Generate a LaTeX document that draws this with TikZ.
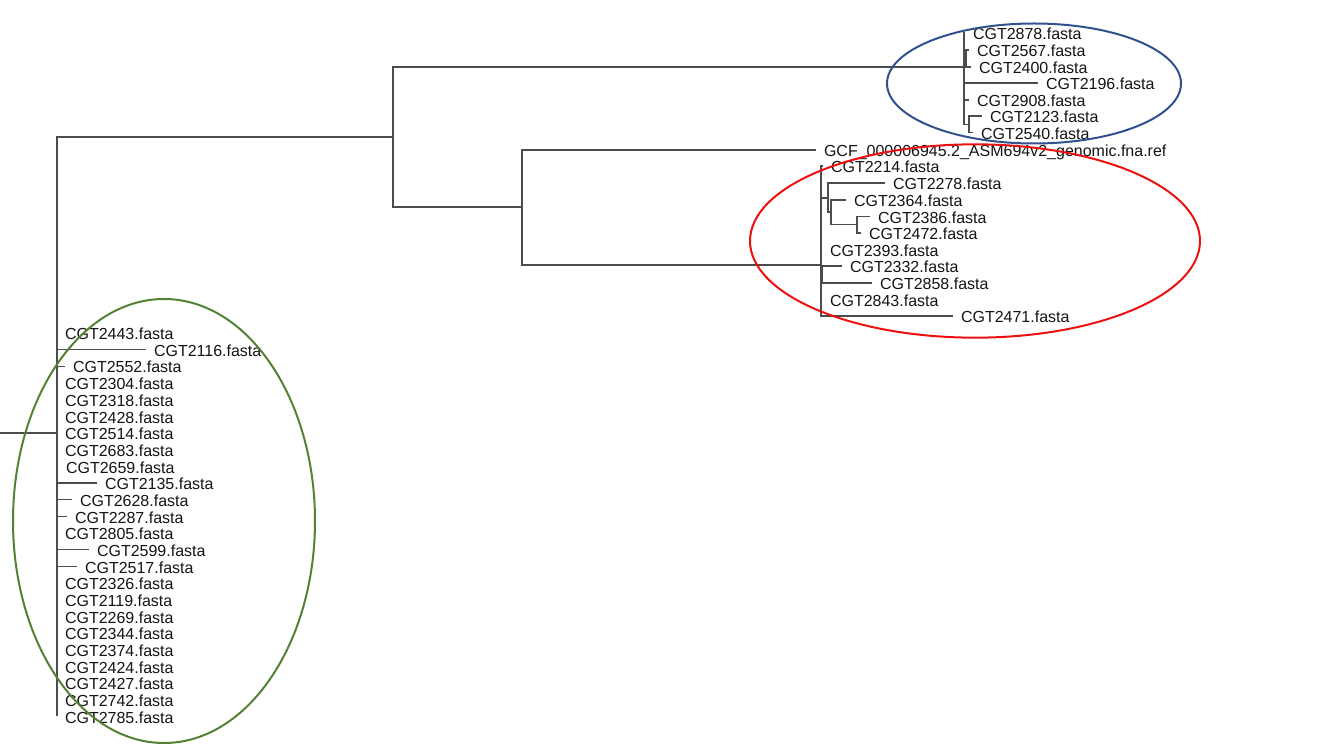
\documentclass[tikz,border=0pt]{standalone}
\usepackage{fontspec}
\setmainfont{Liberation Sans}
\definecolor{ringblue}{RGB}{47,82,143}
\definecolor{ringred}{RGB}{236,16,16}
\definecolor{ringgreen}{RGB}{84,130,53}
\begin{document}
\begin{tikzpicture}[x=0.75pt,y=-0.75pt,
  br/.style={draw=black!70,line width=0.8pt},
  leaf/.style={anchor=west,inner sep=0pt,outer xsep=6pt,text height=10pt,text depth=0pt,
    font=\fontsize{12}{14}\selectfont,text=black!92},
  ring/.style={line width=1.5pt}]
\useasboundingbox (0,0) rectangle (1343,755);
% internal nodes
\coordinate (R0) at (0,433);
\coordinate (N1) at (57,433);
\coordinate (N2) at (393,137);
\coordinate (N3) at (522,207);
\coordinate (B1) at (964,67);
\coordinate (B2) at (966,58.5);
\coordinate (B3) at (969,124.5);
\coordinate (R1) at (821,265);
\coordinate (RA) at (828,198);
\coordinate (RB) at (831,212);
\coordinate (RC) at (857,224.5);
\coordinate (RD) at (822,274.5);
% backbone
\draw[br] (R0) -- (N1);
\draw[br] (N1) |- (N2);
\draw[br] (N2) |- (B1);
\draw[br] (N2) |- (N3);
\draw[br] (N3) |- (R1);
% GCF reference
\node[leaf] (gcf) at (816,150) {GCF\_000006945.2\_ASM694v2\_genomic.fna.ref};
\draw[br] (N3) |- (gcf.west);
% blue clade
\node[leaf] (b2878) at (965,33) {CGT2878.fasta};
\node[leaf] (b2567) at (969,50) {CGT2567.fasta};
\node[leaf] (b2400) at (971,67) {CGT2400.fasta};
\node[leaf] (b2196) at (1038,83) {CGT2196.fasta};
\node[leaf] (b2908) at (969,100) {CGT2908.fasta};
\node[leaf] (b2123) at (982,116) {CGT2123.fasta};
\node[leaf] (b2540) at (973,132.5) {CGT2540.fasta};
\draw[br] (B1) |- (b2878.west);
\draw[br] (B1) |- (B2);
\draw[br] (B2) |- (b2567.west);
\draw[br] (B2) |- (b2400.west);
\draw[br] (B1) |- (b2196.west);
\draw[br] (B1) |- (b2908.west);
\draw[br] (B1) |- (B3);
\draw[br] (B3) |- (b2123.west);
\draw[br] (B3) |- (b2540.west);
% red clade
\node[leaf] (r2214) at (823,166) {CGT2214.fasta};
\node[leaf] (r2278) at (885,183) {CGT2278.fasta};
\node[leaf] (r2364) at (846,200) {CGT2364.fasta};
\node[leaf] (r2386) at (870,216.5) {CGT2386.fasta};
\node[leaf] (r2472) at (861,233) {CGT2472.fasta};
\node[leaf] (r2393) at (822,249.5) {CGT2393.fasta};
\node[leaf] (r2332) at (842,266) {CGT2332.fasta};
\node[leaf] (r2858) at (872,283) {CGT2858.fasta};
\node[leaf] (r2843) at (822,299.5) {CGT2843.fasta};
\node[leaf] (r2471) at (953,316) {CGT2471.fasta};
\draw[br] (R1) |- (r2214.west);
\draw[br] (R1) |- (RA);
\draw[br] (RA) |- (r2278.west);
\draw[br] (RA) |- (RB);
\draw[br] (RB) |- (r2364.west);
\draw[br] (RB) |- (RC);
\draw[br] (RC) |- (r2386.west);
\draw[br] (RC) |- (r2472.west);
\draw[br] (R1) |- (r2393.west);
\draw[br] (R1) |- (RD);
\draw[br] (RD) |- (r2332.west);
\draw[br] (RD) |- (r2858.west);
\draw[br] (R1) |- (r2843.west);
\draw[br] (R1) |- (r2471.west);
% green clade
\foreach \n/\xe [count=\i from 0] in {2443/57,2116/146,2552/65,2304/57,2318/57,2428/57,2514/57,2683/57,2659/58,2135/97,2628/72,2287/67,2805/57,2599/89,2517/77,2326/57,2119/57,2269/57,2344/57,2374/57,2424/57,2427/57,2742/57,2785/57}{
  \node[leaf] (g\n) at (\xe,{333+16.667*\i}) {CGT\n.fasta};
  \draw[br] (N1) |- (g\n.west);
}
% ellipses
\draw[ring,draw=ringblue] (1034,83.5) ellipse [x radius=110.25pt, y radius=45pt];
\draw[ring,draw=ringred] (975,241) ellipse [x radius=168.75pt, y radius=72.5pt];
\draw[ring,draw=ringgreen] (164,521) ellipse [x radius=113.25pt, y radius=166.5pt];
\end{tikzpicture}
\end{document}
